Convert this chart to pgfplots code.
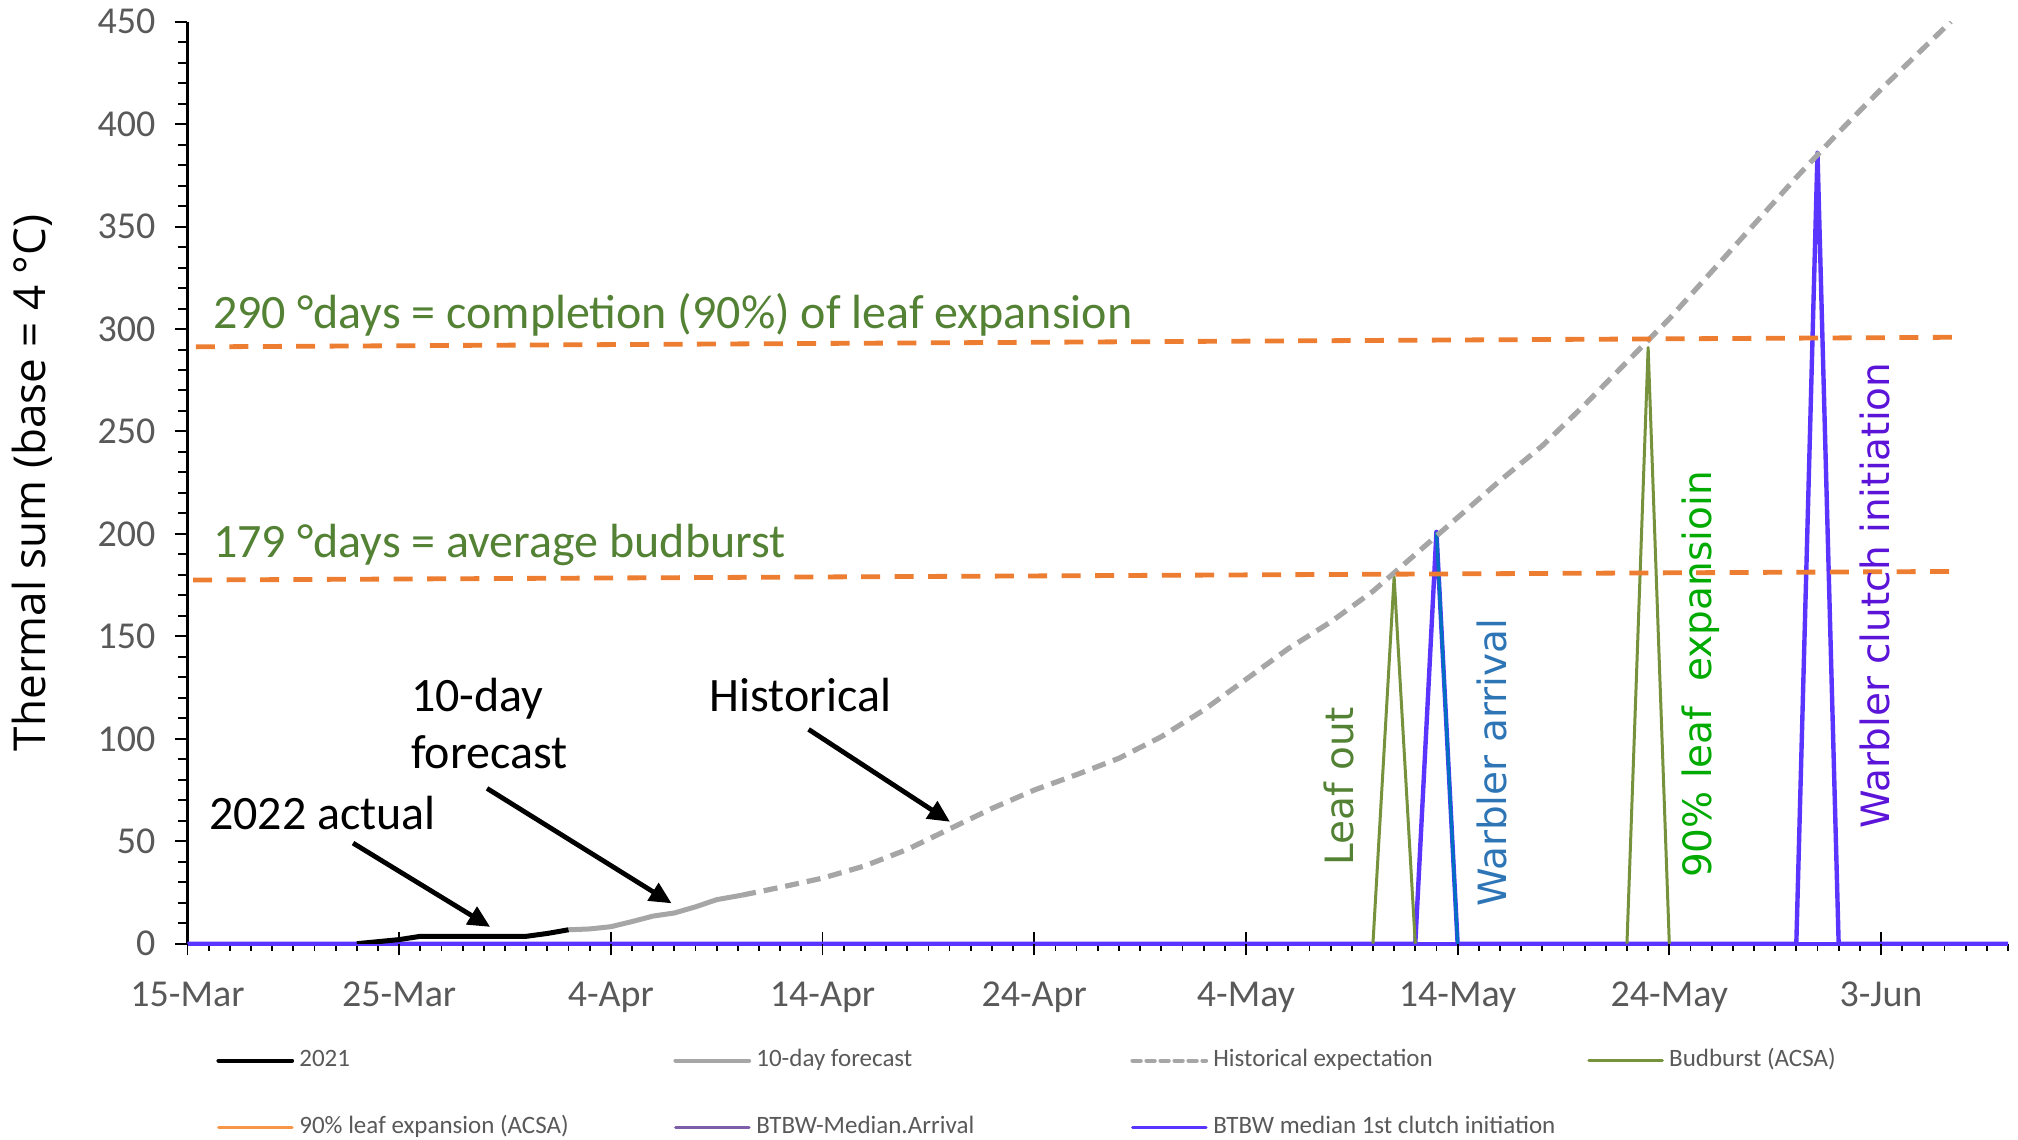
\documentclass[border=0pt]{standalone}
\usepackage{pgfplots}
\pgfplotsset{compat=1.18}
\usetikzlibrary{arrows.meta}
\usepackage{fontspec}
\setmainfont{Carlito}
\newfontfamily\dejavu{DejaVu Sans}
\newfontfamily\opensans{Open Sans}
\definecolor{tickgray}{HTML}{595959}
\definecolor{olivegreen}{HTML}{76923C}
\definecolor{anngreen}{HTML}{548235}
\definecolor{orangeL}{HTML}{ED7D31}
\definecolor{grayL}{HTML}{A6A6A6}
\definecolor{arrblue}{HTML}{0070C0}
\definecolor{violetL}{HTML}{5A35FF}
\definecolor{clutchtext}{HTML}{5B14D8}
\definecolor{arrtext}{HTML}{2E75B6}
\definecolor{greentext}{HTML}{00AA00}
\definecolor{purpleLeg}{HTML}{7E5DA9}
\definecolor{orangeLeg}{HTML}{F79646}

\begin{document}
\begin{tikzpicture}
\begin{axis}[
  name=ax,
  scale only axis, width=910.25pt, height=461pt,
  xmin=0, xmax=86, ymin=0, ymax=450,
  axis lines*=left,
  axis line style={line width=1.3pt, black},
  x axis line style={draw=violetL, line width=2.2pt},
  /pgf/number format/assume math mode=true,
  major tick length=3.6pt,
  xtick={0,1,...,86},
  xticklabels={},
  xtick align=outside,
  xtick style={line width=0.9pt, black},
  extra x ticks={0,10,20,30,40,50,60,70,80},
  extra x tick labels={15-Mar,25-Mar,4-Apr,14-Apr,24-Apr,4-May,14-May,24-May,3-Jun},
  extra x tick style={/pgfplots/major tick length=11.7pt, xtick align=center, line width=1.1pt},
  ytick={0,50,...,450},
  minor y tick num=4,
  ytick align=outside,
  ytick style={/pgfplots/major tick length=6pt, /pgfplots/minor tick length=4.5pt, line width=1pt, black},
  xticklabel style={font=\fontsize{19}{19}\selectfont, text=tickgray, anchor=base, inner sep=0pt, yshift=-25.7pt},
  yticklabel style={font=\fontsize{19}{19}\selectfont, text=tickgray, anchor=east, inner sep=0pt, xshift=-12.25pt},
  ylabel={Thermal sum (base = 4 °C)},
  ylabel style={font=\opensans\fontsize{22}{22}\selectfont, at={(axis description cs:-0.0854,0.5)}, anchor=center},
  legend columns=4,
  legend cell align=left,
  legend image code/.code={\draw[#1, line cap=round] (0pt,0pt) -- (36.7pt,0pt);},
  legend style={at={(axis description cs:0,0)}, anchor=north west, xshift=14.25pt, yshift=-52.3pt,
    draw=none, fill=none, inner sep=0pt, column sep=0pt, row sep=21.5pt,
    font=\fontsize{12.5}{14}\selectfont, text=tickgray,
    nodes={inner sep=0pt, text height=9pt, text depth=3pt}},
]
% clutch series (violet) incl. baseline
\addplot[forget plot, violetL, line width=2.2pt, line join=round] coordinates {
(0,0) (58,0) (59,201) (60,0) (76,0) (77,386) (78,0) (86,0)};
% arrival descending (blue)
\addplot[forget plot, arrblue, line width=1.6pt, line join=round] coordinates {(59,201) (60,0)};
% budburst / 90% leaf spikes (olive)
\addplot[forget plot, olivegreen, line width=1.5pt, line join=round] coordinates {(56,0) (57,179) (58,0)};
\addplot[forget plot, olivegreen, line width=1.5pt, line join=round] coordinates {(68,0) (69,291) (70,0)};
% historical expectation
\addplot[forget plot, grayL, line width=2.6pt, dash pattern=on 7pt off 4pt] coordinates {
(26.2,23.7) (28,27.5) (30,32) (32,38) (34,46) (36,56) (38,66) (40,75) (42,82.5) (44,90.5)
(46,101) (48,114) (50,129) (52,144) (54,157) (56,172) (58,190) (60,208) (62,226)
(64,243) (66,263) (68,284) (70,305) (72,328) (74,351) (76,374) (78,396)
(80,417) (82,437) (83.3,450)};
% 10-day forecast
\addplot[forget plot, grayL, line width=2.5pt, line join=round] coordinates {
(18,6.8) (19,7.2) (20,8.3) (21,10.8) (22,13.5) (23,15) (24,18) (25,21.5) (26.2,23.7)};
% 2021 actual
\addplot[forget plot, black, line width=2.5pt, line join=round] coordinates {
(8,0) (9,1) (10,2) (11,3.6) (12,3.6) (13,3.6) (14,3.6) (15,3.6) (16,3.6) (17,5) (18,6.8)};
% orange reference lines
\addplot[forget plot, orangeL, line width=2.4pt, dash pattern=on 9.5pt off 7.2pt] coordinates {(0.27,177.5) (83.7,181.7)};
\addplot[forget plot, orangeL, line width=2.4pt, dash pattern=on 9.5pt off 7.2pt] coordinates {(0.4,291.3) (83.9,296)};

% legend entries
\addlegendimage{black, line width=2.2pt}
\addlegendentry{\hspace*{2.6pt}\makebox[187pt][l]{2021}}
\addlegendimage{grayL, line width=2.2pt}
\addlegendentry{\hspace*{2.6pt}\makebox[187pt][l]{10-day forecast}}
\addlegendimage{grayL, line width=2.2pt, dash pattern=on 4pt off 3pt}
\addlegendentry{\hspace*{2.6pt}\makebox[187pt][l]{Historical expectation}}
\addlegendimage{olivegreen, line width=1.6pt}
\addlegendentry{\hspace*{2.6pt}\makebox[187pt][l]{Budburst (ACSA)}}
\addlegendimage{orangeLeg, line width=1.6pt}
\addlegendentry{\hspace*{2.6pt}\makebox[187pt][l]{90\% leaf expansion (ACSA)}}
\addlegendimage{purpleLeg, line width=1.6pt}
\addlegendentry{\hspace*{2.6pt}\makebox[187pt][l]{BTBW-Median.Arrival}}
\addlegendimage{violetL, line width=1.6pt}
\addlegendentry{\hspace*{2.6pt}\makebox[187pt][l]{BTBW median 1st clutch initiation}}

% annotations
\node[anchor=base west, inner sep=0pt, text=anngreen, font=\fontsize{24}{24}\selectfont] at (axis cs:1.2,300.4) {290 °days = completion (90\%) of leaf expansion};
\node[anchor=base west, inner sep=0pt, text=anngreen, font=\fontsize{24}{24}\selectfont] at (axis cs:1.2,188.7) {179 °days = average budburst};
\node[anchor=base west, inner sep=0pt, font=\fontsize{24}{24}\selectfont] at (axis cs:1.0,55.5) {2022 actual};
\node[anchor=base west, inner sep=0pt, font=\fontsize{24}{24}\selectfont] at (axis cs:10.55,113.3) {10-day};
\node[anchor=base west, inner sep=0pt, font=\fontsize{24}{24}\selectfont] at (axis cs:10.55,85.6) {forecast};
\node[anchor=base west, inner sep=0pt, font=\fontsize{24}{24}\selectfont] at (axis cs:24.65,113.2) {Historical};
\draw[line width=2.4pt, -{Triangle[length=11pt,width=10pt]}] (axis cs:7.82,49.1) -- (axis cs:14.3,8.2);
\draw[line width=2.4pt, -{Triangle[length=11pt,width=10pt]}] (axis cs:14.15,75.8) -- (axis cs:22.87,19.7);
\draw[line width=2.4pt, -{Triangle[length=11pt,width=10pt]}] (axis cs:29.34,104.6) -- (axis cs:36.02,59.5);
\node[rotate=90, anchor=base west, inner sep=0pt, text=anngreen, font=\dejavu\fontsize{19.5}{19.5}\selectfont] at (axis cs:55.1,37.9) {Leaf out};
\node[rotate=90, anchor=base west, inner sep=0pt, text=arrtext, font=\dejavu\fontsize{19.5}{19.5}\selectfont] at (axis cs:62.3,17.8) {Warbler arrival};
\node[rotate=90, anchor=base west, inner sep=0pt, text=greentext, font=\dejavu\fontsize{19.5}{19.5}\selectfont] at (axis cs:71.98,31.9) {90\% leaf\ \ expansioin};
\node[rotate=90, anchor=base west, inner sep=0pt, text=clutchtext, font=\dejavu\fontsize{19.5}{19.5}\selectfont] at (axis cs:80.38,56) {Warbler clutch initiation};
\end{axis}
\pgfresetboundingbox
\path (ax.south west) ++(-93.75pt,-98.15pt) rectangle ++(1009pt,570pt);
\end{tikzpicture}
\end{document}
